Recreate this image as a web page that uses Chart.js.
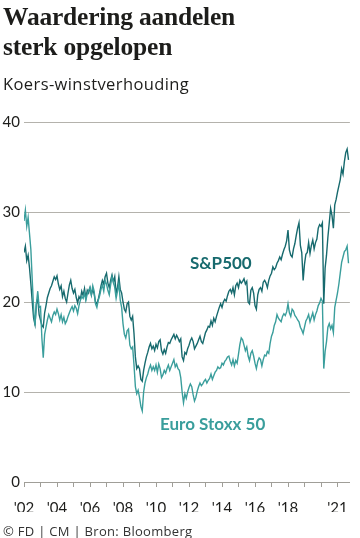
<!DOCTYPE html>
<html>
<head>
<meta charset="utf-8">
<script src="https://cdn.jsdelivr.net/npm/chart.js@4.4.0/dist/chart.umd.min.js"></script>
<style>
    body { margin: 0; width: 360px; height: 538px; overflow: hidden; position: relative; background: #fff; font-family: Lato, sans-serif; color: #1d1d1b; }
    #title { position: absolute; left: 3px; top: 2px; font: bold 25.5px/30px "Liberation Serif", serif; letter-spacing: -0.2px; }
    #sub { position: absolute; left: 3px; top: 72px; font: 16.5px "Open Sans", sans-serif; letter-spacing: 0.4px; }
    #chartBox { position: absolute; left: 0; top: 0; width: 360px; height: 538px; }
    .lbl { position: absolute; font-weight: bold; font-size: 17px; }
    #foot { position: absolute; left: 3px; top: 522px; font: 13px "Open Sans", sans-serif; letter-spacing: 0.3px; color: #333; }
</style>
</head>
<body>
<div id="chartBox"><canvas id="pe"></canvas></div>
<div id="title">Waardering aandelen<br>sterk opgelopen</div>
<div id="sub">Koers-winstverhouding</div>
<div class="lbl" style="left:190px;top:252px;color:#176a6e">S&amp;P500</div>
<div class="lbl" style="left:160px;top:413px;color:#3a9e9c">Euro Stoxx 50</div>
<div id="foot">© FD | CM | Bron: Bloomberg</div>
<script>
    // maandelijkse waarden vanaf januari 2002
    var startYear = 2002;

    var spx = [
        25.5, 26.2, 24.6, 25.2, 23.8, 22.0, 20.0, 18.2, 17.5, 19.8, 20.4, 18.6,   // 2002
        18.0, 17.4, 17.2, 18.8, 19.6, 20.5, 21.0, 21.5, 21.8, 22.3, 22.8, 22.5,   // 2003
        22.9, 22.0, 21.4, 21.8, 20.6, 21.2, 20.4, 20.0, 21.0, 21.9, 22.4, 21.5,   // 2004
        21.0, 21.4, 20.5, 19.9, 20.6, 20.3, 21.2, 20.7, 21.5, 20.4, 21.3, 21.0,   // 2005
        21.6, 20.8, 21.4, 20.9, 20.0, 19.8, 20.3, 21.0, 21.8, 22.4, 22.0, 22.8,   // 2006
        23.2, 22.1, 21.6, 22.4, 23.0, 22.2, 22.8, 21.0, 21.6, 22.8, 21.4, 21.0,   // 2007
        20.0, 19.2, 18.9, 19.8, 20.0, 18.4, 18.0, 18.4, 16.5, 13.9, 12.6, 12.9,   // 2008
        12.6, 11.4, 11.2, 12.4, 13.2, 13.9, 14.4, 15.0, 15.4, 14.8, 15.1, 14.6,   // 2009
        15.3, 14.9, 15.6, 15.8, 14.6, 14.2, 14.7, 14.3, 15.0, 15.5, 15.4, 15.8,   // 2010
        16.1, 16.4, 15.9, 16.3, 16.0, 15.6, 15.9, 13.9, 13.5, 14.4, 14.2, 14.8,   // 2011
        15.2, 15.7, 16.0, 15.6, 14.8, 15.1, 15.4, 15.8, 16.2, 15.6, 15.4, 16.0,   // 2012
        16.6, 16.9, 17.3, 17.2, 17.9, 17.4, 18.2, 17.8, 18.4, 18.9, 19.4, 19.8,   // 2013
        19.4, 20.0, 20.3, 20.1, 20.7, 21.2, 21.4, 21.0, 21.6, 20.8, 21.8, 22.1,   // 2014
        21.6, 22.4, 22.1, 22.3, 22.6, 22.0, 22.3, 20.0, 19.8, 21.3, 21.6, 21.0,   // 2015
        19.6, 19.2, 20.8, 21.4, 21.6, 21.2, 22.2, 22.4, 22.1, 21.6, 22.4, 22.9,   // 2016
        23.2, 23.9, 23.6, 23.8, 24.3, 24.6, 25.0, 24.7, 25.3, 25.8, 26.2, 26.8,   // 2017
        28.0, 25.8, 25.2, 25.0, 25.9, 26.5, 27.4, 28.2, 28.8, 26.3, 25.5, 22.4,   // 2018
        24.2, 25.3, 25.5, 26.6, 25.4, 26.3, 26.9, 25.9, 26.6, 27.0, 28.2, 28.6,   // 2019
        28.4, 28.8, 19.8, 23.8, 25.2, 27.2, 28.8, 30.4, 29.6, 28.2, 30.8, 31.4,   // 2020
        32.2, 32.9, 33.6, 34.8, 34.2, 35.6, 36.6, 37.0, 35.8                      // 2021
    ];

    var stoxx = [
        29.0, 30.2, 28.4, 29.4, 27.6, 25.8, 22.4, 19.2, 17.4, 19.8, 21.2, 19.4,   // 2002
        19.5, 16.0, 13.8, 16.4, 17.2, 18.0, 18.6, 18.2, 17.8, 18.5, 18.9, 18.6,   // 2003
        19.2, 18.7, 18.0, 18.6, 17.8, 18.3, 17.6, 17.9, 18.4, 18.8, 19.2, 19.5,   // 2004
        19.0, 19.6, 19.3, 18.7, 19.6, 20.2, 20.6, 20.4, 21.0, 20.2, 20.9, 21.3,   // 2005
        21.6, 20.8, 21.8, 21.2, 19.8, 19.4, 20.2, 20.7, 21.4, 21.9, 21.2, 22.4,   // 2006
        22.0, 21.3, 20.8, 21.9, 22.8, 22.3, 21.6, 20.4, 21.2, 22.0, 20.2, 19.4,   // 2007
        17.6, 16.4, 16.0, 16.8, 17.0, 15.2, 14.8, 15.0, 13.0, 10.6, 9.8, 10.2,    // 2008
        9.4, 8.4, 7.9, 10.0, 11.0, 11.6, 12.0, 12.6, 13.0, 12.4, 12.8, 12.4,      // 2009
        13.0, 12.2, 13.1, 12.6, 11.6, 11.9, 12.4, 12.1, 12.6, 13.0, 12.4, 12.8,   // 2010
        13.2, 13.6, 12.8, 13.1, 12.6, 12.4, 11.6, 10.0, 8.8, 9.8, 9.3, 10.0,      // 2011
        10.5, 10.9, 10.6, 9.7, 9.0, 9.4, 10.1, 10.6, 11.0, 10.7, 10.9, 11.2,      // 2012
        11.4, 11.0, 11.3, 11.5, 12.0, 11.4, 11.8, 12.2, 12.4, 12.8, 12.6, 12.7,   // 2013
        13.2, 13.0, 13.4, 13.6, 13.9, 14.0, 13.4, 13.0, 13.6, 12.9, 13.5, 13.2,   // 2014
        14.2, 15.3, 16.0, 15.8, 15.2, 14.6, 15.0, 14.0, 13.5, 14.3, 14.6, 14.0,   // 2015
        13.2, 12.6, 13.4, 13.8, 13.6, 12.9, 13.6, 14.1, 14.0, 14.5, 14.3, 15.4,   // 2016
        16.2, 16.6, 17.4, 17.8, 18.6, 18.2, 18.0, 17.8, 18.4, 18.7, 18.5, 18.9,   // 2017
        19.8, 18.8, 18.4, 19.2, 19.0, 18.5, 18.3, 18.0, 17.8, 17.2, 16.9, 16.5,   // 2018
        17.2, 17.9, 18.2, 18.6, 17.8, 18.3, 18.8, 18.0, 18.6, 19.0, 19.6, 19.9,   // 2019
        20.4, 20.1, 12.6, 14.5, 15.6, 17.2, 17.6, 17.0, 17.4, 16.6, 19.4, 20.2,   // 2020
        21.0, 22.0, 23.2, 24.4, 25.0, 25.6, 25.8, 26.2, 24.3                      // 2021
    ];

    var tickYears = [2002, 2003, 2004, 2005, 2006, 2007, 2008, 2009, 2010, 2011,
                     2012, 2013, 2014, 2015, 2016, 2017, 2018, 2019, 2020, 2021];
    var labelYears = [2002, 2004, 2006, 2008, 2010, 2012, 2014, 2016, 2018, 2021];

    function toPoints(arr) {
        var pts = [];
        for (var i = 0; i < arr.length; i++)
            pts.push({x: startYear + i / 12, y: arr[i]});
        return pts;
    }

    var gridGrey = '#b4b2ac';

    new Chart(document.getElementById('pe'), {
        type: 'line',
        data: {
            datasets: [
                {label: 'Euro Stoxx 50', data: toPoints(stoxx), borderColor: '#3a9e9c', borderWidth: 1.4, pointRadius: 0, tension: 0},
                {label: 'S&P500', data: toPoints(spx), borderColor: '#176a6e', borderWidth: 1.4, pointRadius: 0, tension: 0}
            ]
        },
        options: {
            responsive: true,
            maintainAspectRatio: false,
            animation: false,
            events: [],
            layout: {padding: {top: 122, right: 7, bottom: 26, left: 0}},
            plugins: {legend: {display: false}, tooltip: {enabled: false}},
            scales: {
                x: {
                    type: 'linear',
                    min: 2002,
                    max: 2021.75,
                    afterBuildTicks: function (s) {
                        s.ticks = tickYears.map(function (v) { return {value: v}; });
                    },
                    afterFit: function (s) { s.height = 30; },
                    grid: {drawOnChartArea: false, drawTicks: true, tickLength: 5, tickColor: '#a09e98'},
                    border: {display: true, color: '#a09e98'},
                    ticks: {
                        autoSkip: false, maxRotation: 0, padding: 12,
                        color: '#1d1d1b', font: {family: 'Lato', size: 15},
                        callback: function (v) {
                            return labelYears.indexOf(v) >= 0 ? "'" + String(v).slice(2) : '';
                        }
                    }
                },
                y: {
                    min: 0,
                    max: 40,
                    afterFit: function (s) { s.width = 24; },
                    grid: {color: gridGrey, drawTicks: false},
                    border: {display: false},
                    ticks: {stepSize: 10, padding: 4, color: '#1d1d1b', font: {family: 'Lato', size: 15}}
                }
            }
        }
    });
</script>
</body>
</html>
